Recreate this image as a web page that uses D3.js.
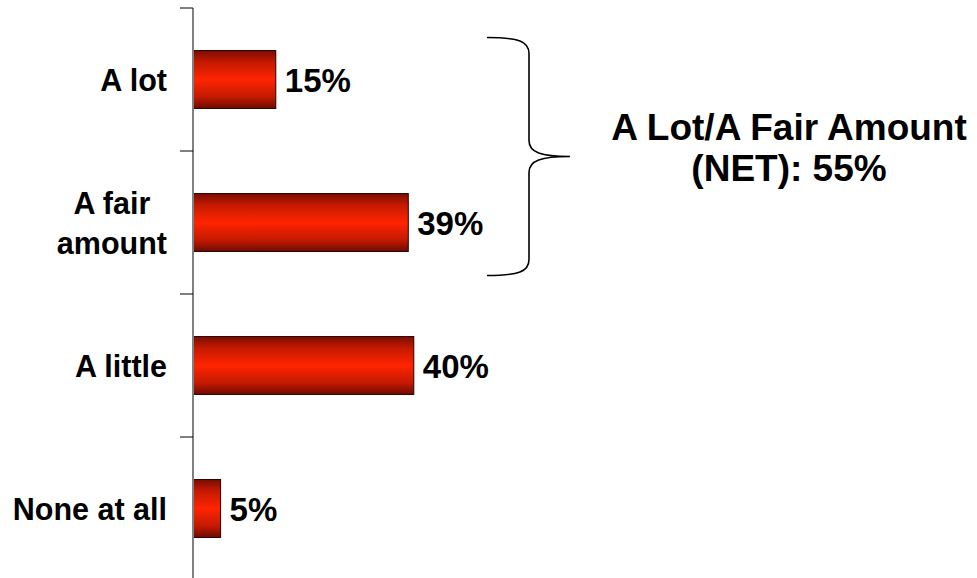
<!DOCTYPE html>
<html>
<head>
<meta charset="utf-8">
<script src="https://cdn.jsdelivr.net/npm/d3@7"></script>
<style>
  html, body { margin: 0; padding: 0; background: #fff; }
  svg { display: block; font-family: Arial, "Liberation Sans", sans-serif; font-weight: bold; }
</style>
</head>
<body>
<svg id="chart" width="977" height="578"></svg>
<script>
// Survey answers and their shares (%)
const categories = ["A lot", "A fair amount", "A little", "None at all"];
const categoryLines = [["A lot"], ["A fair", "amount"], ["A little"], ["None at all"]];
const values = [15, 39, 40, 5];
const netLabel = ["A Lot/A Fair Amount", "(NET): 55%"];
const netGroup = ["A lot", "A fair amount"];

const svg = d3.select("#chart");
const W = 977, H = 578;

const axisX = 193;
const x = d3.scaleLinear().domain([0, 100]).range([axisX, axisX + 552]);

// slot per category (for ticks) and inset band for the bars
const ySlot = d3.scaleBand().domain(categories).range([8, 580]).padding(0);
const y = d3.scaleBand().domain(categories).range([8, 580])
  .paddingInner(0.595).paddingOuter(0.2975);

// bar gradient: dark edges, bright red centre
const defs = svg.append("defs");
const grad = defs.append("linearGradient").attr("id", "barGrad")
  .attr("x1", 0).attr("y1", 0).attr("x2", 0).attr("y2", 1);
[[0, "#7a0c00"], [0.2, "#c41a00"], [0.5, "#ff2400"], [0.8, "#c41a00"], [1, "#6e0a00"]]
  .forEach(([o, c]) => grad.append("stop").attr("offset", o).attr("stop-color", c));

// bars
svg.append("g").selectAll("rect")
  .data(categories)
  .join("rect")
  .attr("x", x(0))
  .attr("y", d => y(d))
  .attr("width", (d, i) => x(values[i]) - x(0))
  .attr("height", y.bandwidth())
  .attr("fill", "url(#barGrad)")
  .attr("stroke", "#2a0000")
  .attr("stroke-width", 1);

// vertical axis with ticks between categories
const tickYs = categories.map(c => ySlot(c)).concat([ySlot.range()[1]]);
const axisG = svg.append("g");
axisG.append("line")
  .attr("x1", axisX).attr("x2", axisX)
  .attr("y1", ySlot.range()[0]).attr("y2", H)
  .attr("stroke", "#808080").attr("stroke-width", 2);
axisG.selectAll("line.tick")
  .data(tickYs)
  .join("line").attr("class", "tick")
  .attr("x1", axisX - 13).attr("x2", axisX)
  .attr("y1", d => d).attr("y2", d => d)
  .attr("stroke", "#000").attr("stroke-width", 1);

// category labels
const labelRight = 167;
const lineGap = 40;
categoryLines.forEach((lines, i) => {
  const cy = y(categories[i]) + y.bandwidth() / 2;
  const t = svg.append("text")
    .attr("font-size", 30.5)
    .attr("fill", "#000");
  if (lines.length === 1) {
    t.attr("text-anchor", "end")
      .attr("x", labelRight)
      .attr("y", cy + 11)
      .text(lines[0]);
  } else {
    t.attr("text-anchor", "middle");
    const spans = t.selectAll("tspan").data(lines).join("tspan")
      .text(s => s);
    const maxW = d3.max(spans.nodes(), n => n.getComputedTextLength());
    const cx = labelRight - maxW / 2;
    spans.attr("x", cx)
      .attr("y", (s, k) => cy + 11 + (k - (lines.length - 1) / 2) * lineGap);
  }
});

// value labels
svg.append("g").selectAll("text")
  .data(categories)
  .join("text")
  .attr("x", (d, i) => x(values[i]) + 9)
  .attr("y", d => y(d) + y.bandwidth() / 2 + 12)
  .attr("font-size", 33)
  .attr("fill", "#000")
  .text((d, i) => values[i] + "%");

// curly brace spanning the two top answers
const bTop = y(netGroup[0]) - 13;
const bBot = y(netGroup[1]) + y.bandwidth() + 24;
const bMid = (bTop + bBot) / 2;
const bx0 = 487, bx1 = 529, bTip = 570;
const r = 16;
const bracePath = d3.path();
bracePath.moveTo(bx0, bTop);
bracePath.bezierCurveTo(bx1 - 10, bTop, bx1, bTop + 4, bx1, bTop + r);
bracePath.lineTo(bx1, bMid - r);
bracePath.bezierCurveTo(bx1, bMid - 4, bx1 + 12, bMid, bTip, bMid);
bracePath.bezierCurveTo(bx1 + 12, bMid, bx1, bMid + 4, bx1, bMid + r);
bracePath.lineTo(bx1, bBot - r);
bracePath.bezierCurveTo(bx1, bBot - 4, bx1 - 10, bBot, bx0, bBot);
svg.append("path")
  .attr("d", bracePath.toString())
  .attr("fill", "none")
  .attr("stroke", "#000")
  .attr("stroke-width", 1.6);

// NET annotation
svg.append("text")
  .attr("text-anchor", "middle")
  .attr("font-size", 37)
  .attr("fill", "#000")
  .selectAll("tspan")
  .data(netLabel)
  .join("tspan")
  .attr("x", 789)
  .attr("y", (d, k) => 140 + k * 41)
  .text(d => d);
</script>
</body>
</html>
